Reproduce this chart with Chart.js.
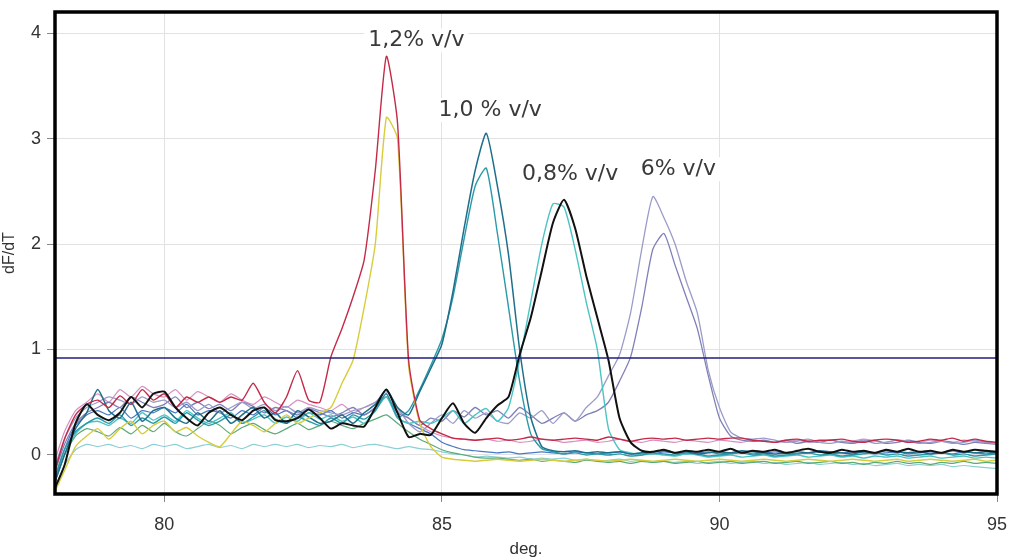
<!DOCTYPE html>
<html lang="en">
<head>
<meta charset="UTF-8">
<title>Melt curves dF/dT</title>
<script src="https://cdn.jsdelivr.net/npm/chart.js@4.4.0/dist/chart.umd.min.js"></script>
<style>
    html, body { margin: 0; background: #fff; }
    #wrap { width: 1010px; height: 560px; }
</style>
</head>
<body>
<div id="wrap"><canvas id="melt" width="1010" height="560"></canvas></div>
<script>
// temperature grid (deg.)
const temps = [
    78, 78.2, 78.4, 78.6, 78.8, 79, 79.2, 79.4, 79.6, 79.8,
    80, 80.2, 80.4, 80.6, 80.8, 81, 81.2, 81.4, 81.6, 81.8,
    82, 82.2, 82.4, 82.6, 82.8, 83, 83.2, 83.4, 83.6, 83.8,
    84, 84.2, 84.4, 84.6, 84.8, 85, 85.2, 85.4, 85.6, 85.8,
    86, 86.2, 86.4, 86.6, 86.8, 87, 87.2, 87.4, 87.6, 87.8,
    88, 88.2, 88.4, 88.6, 88.8, 89, 89.2, 89.4, 89.6, 89.8,
    90, 90.2, 90.4, 90.6, 90.8, 91, 91.2, 91.4, 91.6, 91.8,
    92, 92.2, 92.4, 92.6, 92.8, 93, 93.2, 93.4, 93.6, 93.8,
    94, 94.2, 94.4, 94.6, 94.8, 95
];

// 1,2% v/v
const red12 = [
    -0.2, 0.15, 0.38, 0.48, 0.52, 0.45, 0.56, 0.48, 0.62, 0.52,
    0.58, 0.45, 0.55, 0.5, 0.55, 0.5, 0.55, 0.52, 0.68, 0.5,
    0.4, 0.55, 0.8, 0.52, 0.5, 0.93, 1.2, 1.5, 1.85, 2.7,
    3.78, 3.15, 0.9, 0.33, 0.25, 0.2, 0.16, 0.15, 0.14, 0.15,
    0.16, 0.14, 0.15, 0.17, 0.15, 0.14, 0.15, 0.16, 0.15, 0.14,
    0.17, 0.15, 0.13, 0.15, 0.16, 0.15, 0.16, 0.14, 0.15, 0.16,
    0.15, 0.16, 0.16, 0.14, 0.13, 0.12, 0.14, 0.15, 0.13, 0.14,
    0.14, 0.15, 0.13, 0.12, 0.14, 0.15, 0.14, 0.12, 0.13, 0.15,
    0.14, 0.16, 0.13, 0.15, 0.13, 0.12
];
const yellow12 = [
    -0.38, -0.15, 0.08, 0.18, 0.25, 0.15, 0.25, 0.32, 0.2, 0.28,
    0.32, 0.22, 0.26, 0.18, 0.12, 0.08, 0.2, 0.32, 0.28, 0.22,
    0.3, 0.38, 0.3, 0.35, 0.4, 0.45, 0.68, 0.9, 1.4, 2.0,
    3.2, 3.0, 0.85, 0.3, 0.08, -0.02, -0.04, -0.05, -0.06, -0.05,
    -0.04, -0.05, -0.06, -0.05, -0.04, -0.05, -0.06, -0.05, -0.04, -0.05,
    -0.06, -0.05, -0.04, -0.05, -0.06, -0.05, -0.04, -0.05, -0.06, -0.05,
    -0.04, -0.05, -0.06, -0.05, -0.04, -0.05, -0.06, -0.05, -0.04, -0.05,
    -0.06, -0.05, -0.04, -0.05, -0.06, -0.05, -0.04, -0.06, -0.05, -0.04,
    -0.05, -0.06, -0.05, -0.04, -0.06, -0.05
];
// 1,0% v/v
const teal10a = [
    -0.3, 0.0, 0.25, 0.4, 0.62, 0.42, 0.35, 0.5, 0.32, 0.42,
    0.45, 0.35, 0.3, 0.4, 0.32, 0.42, 0.3, 0.38, 0.45, 0.35,
    0.4, 0.3, 0.42, 0.36, 0.3, 0.32, 0.38, 0.3, 0.4, 0.48,
    0.62, 0.45, 0.38, 0.6, 0.82, 1.05, 1.55, 2.15, 2.7, 3.05,
    2.55, 1.9, 1.0, 0.36, 0.08, 0.04, 0.03, 0.04, 0.02, 0.03,
    0.02, 0.03, 0.01, 0.02, 0.03, 0.04, 0.02, 0.03, 0.01, 0.02,
    0.03, 0.02, 0.04, 0.03, 0.02, 0.01, 0.02, 0.03, 0.02, 0.04,
    0.03, 0.02, 0.01, 0.03, 0.02, 0.04, 0.03, 0.02, 0.03, 0.01,
    0.02, 0.04, 0.03, 0.02, 0.03, 0.02
];
const teal10b = [
    -0.25, 0.05, 0.22, 0.3, 0.35, 0.3, 0.38, 0.28, 0.35, 0.3,
    0.36, 0.3, 0.4, 0.33, 0.28, 0.32, 0.38, 0.3, 0.36, 0.42,
    0.34, 0.3, 0.36, 0.32, 0.28, 0.35, 0.3, 0.38, 0.34, 0.42,
    0.58, 0.36, 0.42, 0.62, 0.85, 1.1, 1.5, 2.05, 2.55, 2.72,
    2.1, 1.4, 0.7, 0.2, 0.06, 0.03, 0.01, 0.02, 0.0, 0.01,
    0.0, 0.01, -0.01, 0.0, 0.02, 0.01, 0.0, 0.02, 0.01, -0.01,
    0.0, 0.01, 0.02, 0.0, 0.01, -0.01, 0.0, 0.01, 0.02, 0.0,
    0.01, -0.01, 0.0, 0.01, 0.02, 0.0, 0.01, -0.01, 0.0, 0.01,
    0.02, 0.0, 0.01, -0.01, 0.0, 0.01
];
// 0,8% v/v
const black08 = [
    -0.35, -0.1, 0.3, 0.48, 0.38, 0.33, 0.4, 0.55, 0.45, 0.58,
    0.6, 0.45, 0.35, 0.28, 0.4, 0.45, 0.38, 0.33, 0.42, 0.45,
    0.33, 0.32, 0.35, 0.43, 0.35, 0.25, 0.3, 0.28, 0.27, 0.45,
    0.62, 0.4, 0.17, 0.2, 0.19, 0.35, 0.49, 0.3, 0.21, 0.35,
    0.47, 0.55, 0.95, 1.3, 1.75, 2.2, 2.42, 2.15, 1.7, 1.3,
    0.9, 0.35, 0.12, 0.04, 0.03, 0.05, 0.02, 0.04, 0.03, 0.05,
    0.03, 0.06, 0.02, 0.04, 0.03, 0.05, 0.02, 0.04, 0.06, 0.03,
    0.02, 0.05, 0.03, 0.04, 0.02, 0.05, 0.03, 0.06, 0.03, 0.04,
    0.02, 0.05, 0.03, 0.05, 0.04, 0.03
];
const cyan08 = [
    -0.3, 0.0, 0.2, 0.3, 0.32, 0.28, 0.35, 0.3, 0.4, 0.33,
    0.38, 0.32, 0.42, 0.35, 0.3, 0.35, 0.4, 0.3, 0.34, 0.38,
    0.3, 0.36, 0.32, 0.4, 0.34, 0.38, 0.32, 0.36, 0.3, 0.42,
    0.55, 0.35, 0.3, 0.32, 0.3, 0.35, 0.42, 0.3, 0.38, 0.44,
    0.32, 0.45, 0.9, 1.45, 2.0, 2.38, 2.35, 1.95, 1.45, 1.0,
    0.25, 0.05, 0.02, 0.0, 0.01, 0.0, -0.01, 0.01, 0.0, -0.02,
    -0.01, 0.0, -0.02, -0.01, 0.0, -0.02, -0.01, 0.0, -0.02, -0.01,
    0.0, -0.02, -0.01, -0.03, -0.01, -0.02, -0.01, -0.03, -0.02, -0.01,
    -0.03, -0.02, -0.01, -0.03, -0.02, -0.03
];
// 6% v/v
const lav6a = [
    -0.15, 0.15, 0.35, 0.45, 0.5, 0.55, 0.52, 0.48, 0.55, 0.5,
    0.52, 0.45, 0.5, 0.42, 0.48, 0.4, 0.45, 0.5, 0.44, 0.48,
    0.42, 0.46, 0.4, 0.45, 0.42, 0.4, 0.38, 0.42, 0.45, 0.5,
    0.6, 0.45, 0.3, 0.22, 0.3, 0.38, 0.3, 0.42, 0.35, 0.4,
    0.32, 0.3, 0.4, 0.35, 0.42, 0.3, 0.4, 0.32, 0.45, 0.55,
    0.75, 0.95, 1.35, 1.95, 2.45, 2.25, 2.0, 1.65, 1.35, 0.8,
    0.45, 0.22, 0.16, 0.15, 0.16, 0.14, 0.12, 0.13, 0.15, 0.12,
    0.11, 0.13, 0.12, 0.14, 0.11, 0.12, 0.14, 0.13, 0.11, 0.12,
    0.13, 0.11, 0.12, 0.14, 0.12, 0.11
];
const lav6b = [
    -0.2, 0.1, 0.3, 0.4, 0.45, 0.5, 0.45, 0.55, 0.5, 0.45,
    0.48, 0.55, 0.45, 0.5, 0.44, 0.48, 0.42, 0.5, 0.46, 0.4,
    0.45, 0.42, 0.38, 0.44, 0.4, 0.36, 0.4, 0.45, 0.38, 0.45,
    0.55, 0.4, 0.35, 0.28, 0.35, 0.32, 0.42, 0.36, 0.45, 0.38,
    0.42, 0.35, 0.45, 0.38, 0.3, 0.35, 0.4, 0.32, 0.38, 0.42,
    0.5, 0.7, 0.93, 1.4, 1.95, 2.1, 1.8, 1.5, 1.2, 0.75,
    0.35, 0.18, 0.14, 0.13, 0.14, 0.12, 0.14, 0.11, 0.13, 0.12,
    0.14, 0.12, 0.11, 0.13, 0.14, 0.11, 0.12, 0.14, 0.12, 0.11,
    0.13, 0.12, 0.1, 0.12, 0.11, 0.1
];
// other wells, no clear peak
const ltcyan = [
    -0.35, -0.1, 0.05, 0.1, 0.08, 0.1, 0.07, 0.09, 0.06, 0.1,
    0.08, 0.1, 0.06, 0.08, 0.1, 0.07, 0.09, 0.06, 0.1, 0.08,
    0.1, 0.08, 0.1, 0.07, 0.09, 0.08, 0.1, 0.07, 0.09, 0.1,
    0.08, 0.06, 0.08, 0.06, 0.05, 0.03, 0.01, 0.0, -0.02, -0.01,
    -0.02, -0.03, -0.02, -0.04, -0.03, -0.04, -0.03, -0.05, -0.04, -0.06,
    -0.05, -0.04, -0.06, -0.05, -0.07, -0.06, -0.07, -0.06, -0.08, -0.07,
    -0.06, -0.08, -0.07, -0.06, -0.08, -0.07, -0.09, -0.08, -0.07, -0.09,
    -0.08, -0.07, -0.09, -0.08, -0.1, -0.09, -0.08, -0.1, -0.09, -0.1,
    -0.09, -0.11, -0.1, -0.11, -0.12, -0.13
];
const green = [
    -0.3, 0.0, 0.18, 0.25, 0.22, 0.18, 0.26, 0.2, 0.28, 0.22,
    0.3, 0.22, 0.18, 0.25, 0.32, 0.28, 0.2, 0.26, 0.3, 0.24,
    0.2, 0.25, 0.3, 0.24, 0.28, 0.32, 0.28, 0.25, 0.3, 0.34,
    0.38, 0.3, 0.22, 0.15, 0.1, 0.05, 0.02, 0.0, -0.02, -0.03,
    -0.03, -0.04, -0.05, -0.04, -0.06, -0.05, -0.06, -0.07, -0.05, -0.06,
    -0.07, -0.06, -0.08, -0.06, -0.07, -0.06, -0.08, -0.07, -0.06, -0.08,
    -0.07, -0.06, -0.08, -0.07, -0.06, -0.08, -0.07, -0.06, -0.08, -0.07,
    -0.06, -0.08, -0.07, -0.09, -0.07, -0.08, -0.06, -0.08, -0.07, -0.09,
    -0.07, -0.08, -0.06, -0.08, -0.07, -0.08
];
const pink = [
    -0.1, 0.22, 0.42, 0.5, 0.58, 0.5, 0.62, 0.55, 0.65, 0.58,
    0.55, 0.62, 0.52, 0.6, 0.55, 0.5, 0.58, 0.52, 0.48, 0.55,
    0.5, 0.45, 0.52, 0.48, 0.45, 0.42, 0.48, 0.4, 0.45, 0.5,
    0.55, 0.42, 0.35, 0.28, 0.22, 0.18, 0.16, 0.15, 0.14, 0.15,
    0.13, 0.14, 0.12, 0.13, 0.15, 0.14, 0.12, 0.13, 0.14, 0.12,
    0.13, 0.15, 0.13, 0.12, 0.14, 0.13, 0.12, 0.14, 0.13, 0.12,
    0.14, 0.13, 0.12, 0.14, 0.13, 0.12, 0.13, 0.14, 0.12, 0.13,
    0.14, 0.12, 0.13, 0.15, 0.13, 0.12, 0.14, 0.13, 0.12, 0.14,
    0.13, 0.12, 0.14, 0.13, 0.12, 0.12
];
const blue = [
    -0.28, 0.05, 0.28, 0.38, 0.42, 0.38, 0.45, 0.35, 0.42, 0.4,
    0.45, 0.4, 0.48, 0.38, 0.42, 0.4, 0.35, 0.42, 0.38, 0.45,
    0.38, 0.42, 0.35, 0.4, 0.38, 0.42, 0.35, 0.4, 0.38, 0.45,
    0.58, 0.35, 0.3, 0.25, 0.2, 0.12, 0.08, 0.05, 0.04, 0.03,
    0.02, 0.03, 0.01, 0.02, 0.03, 0.02, 0.01, 0.03, 0.02, 0.01,
    0.02, 0.03, 0.01, 0.02, 0.01, 0.03, 0.02, 0.01, 0.02, 0.03,
    0.01, 0.02, 0.03, 0.01, 0.02, 0.03, 0.02, 0.01, 0.02, 0.03,
    0.01, 0.02, 0.03, 0.02, 0.01, 0.02, 0.03, 0.01, 0.02, 0.03,
    0.02, 0.01, 0.03, 0.02, 0.01, 0.02
];

const thresholdLevel = 0.92;
const xTicks = [80, 85, 90, 95];
const yTicks = [0, 1, 2, 3, 4];

const noteTexts = ['1,2% v/v', '1,0 % v/v', '0,8% v/v', '6% v/v'];
const noteX = [84.54, 85.87, 87.31, 89.26];
const noteY = [3.93, 3.27, 2.66, 2.71];

// drawing order: first one ends on top
const series = [
    { data: black08, color: '#111111', w: 2 },
    { data: red12, color: '#c42a48', w: 1.4 },
    { data: yellow12, color: '#d8cc3c', w: 1.4 },
    { data: teal10a, color: '#1f6f8b', w: 1.5 },
    { data: teal10b, color: '#2a9aa8', w: 1.4 },
    { data: cyan08, color: '#4cc4c4', w: 1.4 },
    { data: lav6a, color: '#9a9cc8', w: 1.3 },
    { data: lav6b, color: '#8080b8', w: 1.3 },
    { data: blue, color: '#4a78c0', w: 1.2 },
    { data: pink, color: '#d690c0', w: 1.2 },
    { data: green, color: '#5aaa78', w: 1.2 },
    { data: ltcyan, color: '#8ccfd6', w: 1.2 }
];

const datasets = series.map(s => ({
    data: temps.map((t, i) => ({ x: t, y: s.data[i] })),
    borderColor: s.color,
    borderWidth: s.w,
    pointRadius: 0,
    tension: 0.2,
    fill: false
}));
datasets.unshift({
    data: [{ x: 78, y: thresholdLevel }, { x: 95, y: thresholdLevel }],
    borderColor: '#1f1f78',
    borderWidth: 1.6,
    pointRadius: 0,
    fill: false
});

const frameAndNotes = {
    id: 'frameAndNotes',
    afterDatasetsDraw(chart) {
        const { ctx, chartArea: a, scales: { x, y } } = chart;
        ctx.save();
        ctx.font = '22px "DejaVu Sans"';
        ctx.textAlign = 'center';
        ctx.textBaseline = 'middle';
        noteTexts.forEach((t, i) => {
            const px = x.getPixelForValue(noteX[i]);
            const py = y.getPixelForValue(noteY[i]);
            const w = ctx.measureText(t).width;
            ctx.fillStyle = '#fff';
            ctx.fillRect(px - w / 2 - 4, py - 12, w + 8, 24);
            ctx.fillStyle = '#3a3a3a';
            ctx.fillText(t, px, py);
        });
        ctx.strokeStyle = '#000';
        ctx.lineWidth = 3.5;
        ctx.strokeRect(a.left, a.top, a.right - a.left, a.bottom - a.top);
        ctx.restore();
    }
};

new Chart(document.getElementById('melt').getContext('2d'), {
    type: 'line',
    data: { datasets: datasets },
    options: {
        responsive: false,
        animation: false,
        layout: { padding: { top: 12, right: 13, left: 0, bottom: 0 } },
        plugins: { legend: { display: false }, tooltip: { enabled: false } },
        scales: {
            x: {
                type: 'linear',
                min: 78.03,
                max: 95,
                afterBuildTicks: s => { s.ticks = xTicks.map(v => ({ value: v })); },
                afterFit: s => { s.height = 66; s.paddingLeft = 0; s.paddingRight = 0; },
                border: { display: false },
                grid: { color: '#e2e2e2', tickColor: '#888', tickLength: 8 },
                ticks: { color: '#333', padding: 12, maxRotation: 0, font: { family: 'Liberation Sans', size: 18 } },
                title: { display: true, text: 'deg.', color: '#333', padding: 0, font: { family: 'Liberation Sans', size: 17 } }
            },
            y: {
                min: -0.37,
                max: 4.2,
                afterBuildTicks: s => { s.ticks = yTicks.map(v => ({ value: v })); },
                afterFit: s => { s.width = 55; s.paddingTop = 0; s.paddingBottom = 0; },
                border: { display: false },
                grid: { color: '#e2e2e2', tickColor: '#888', tickLength: 8 },
                ticks: { color: '#333', padding: 6, font: { family: 'Liberation Sans', size: 18 } },
                title: { display: true, text: 'dF/dT', color: '#333', padding: 0, font: { family: 'Liberation Sans', size: 16 } }
            }
        }
    },
    plugins: [frameAndNotes]
});
</script>
</body>
</html>
